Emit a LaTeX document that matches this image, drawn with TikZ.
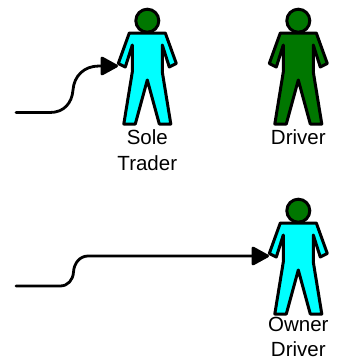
\documentclass[tikz,border=0pt]{standalone}
\usepackage{fontspec}
\setmainfont{Liberation Sans}
\usetikzlibrary{arrows.meta}
\definecolor{figgreen}{HTML}{007700}
\definecolor{figcyan}{HTML}{00FFFF}
\tikzset{
  x=1pt,y=-1pt,
  figline/.style={draw=black,line width=3pt,line join=round},
  conn/.style={draw=black,line width=2.8pt,line cap=round,-{Triangle[length=19pt,width=20pt,round=false]}},
  figlabel/.style={inner sep=0pt,align=center,anchor=base,font=\fontsize{20.5}{25.5}\selectfont},
  pics/person/.style={code={
    \path[figline,fill=#1]
      (-18,33) -- (18,33) -- (29,63.5) -- (22,67) -- (15,45) -- (15,72) -- (23.5,124)
      -- (12,124) -- (0,80) -- (-12,124) -- (-23.5,124) -- (-15,72) -- (-15,45)
      -- (-22,67) -- (-29,63.5) -- cycle;
    \path[figline,fill=figgreen] (0,20.7) circle[radius=11.5];
    \coordinate (-hand) at (-29.3,66);
  }}
}
\begin{document}
\begin{tikzpicture}
\useasboundingbox (0,0) rectangle (342,360);
\pic (sole) at (147.3,0) {person=figcyan};
\pic (driver) at (298.3,0) {person=figgreen};
\pic (owner) at (298.3,190) {person=figcyan};
\node[figlabel] (solelabel) at (147.3,170) {Sole\\Trader};
\node[figlabel] (driverlabel) at (298.3,144) {Driver};
\node[figlabel] (ownerlabel) at (298.3,356.5) {Owner\\Driver};
\coordinate (startone) at (16,112.5);
\coordinate (starttwo) at (16,286);
\draw[conn] (startone) -- (50,112.5) .. controls (64,112.5) and (72,103) .. (73,90)
  .. controls (74,76) and (84,66) .. (99,66) -- (sole-hand);
\draw[conn] (starttwo) -- (60,286) .. controls (68,286) and (73,280) .. (73.5,272)
  .. controls (74,263) and (80,256) .. (88,256) -- (owner-hand);
\end{tikzpicture}
\end{document}
